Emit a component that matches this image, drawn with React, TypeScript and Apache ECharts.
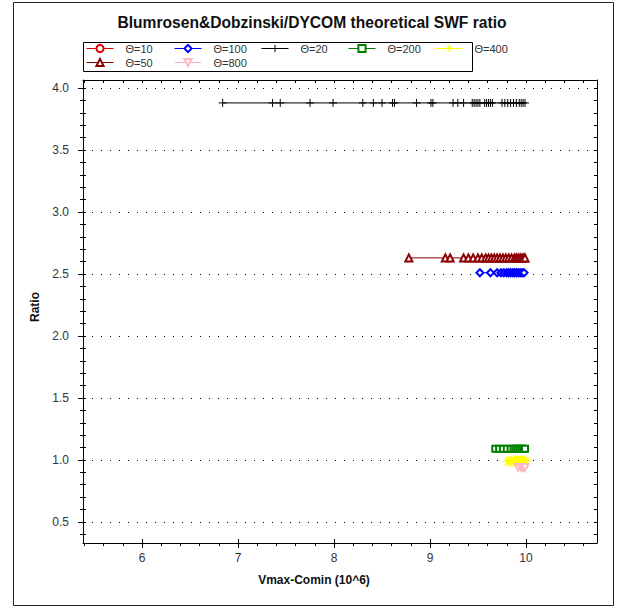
import React, { useEffect, useRef } from "react";
import * as echarts from "echarts";

const FONT = "'Liberation Sans', Arial, sans-serif";

// ---------- data ----------
const seriesNames = ["Θ=10", "Θ=100", "Θ=20", "Θ=200", "Θ=400", "Θ=50", "Θ=800"];

const x10: number[] = [];
const y10 = 4.5;

const x100 = [9.52, 9.63, 9.7, 9.74, 9.77, 9.8, 9.82, 9.84, 9.86, 9.88, 9.9, 9.92, 9.94, 9.96, 9.98];
const y100 = 2.51;

const x20 = [
  6.84, 7.36, 7.44, 7.75, 7.99, 8.3, 8.41, 8.5, 8.61, 8.63, 8.86, 9.01, 9.03, 9.24, 9.29, 9.35,
  9.44, 9.46, 9.48, 9.5, 9.52, 9.57, 9.59, 9.61, 9.63, 9.65, 9.75, 9.78, 9.81, 9.84, 9.87, 9.9,
  9.93, 9.95, 9.97, 9.99,
];
const y20 = 3.88;

const x200 = [9.68, 9.72, 9.76, 9.8, 9.84, 9.87, 9.89, 9.91, 9.93, 9.95, 9.97, 9.99];
const y200 = 1.09;

const x400 = [9.82, 9.85, 9.88, 9.9, 9.92, 9.94, 9.96, 9.98, 9.99];
const y400 = 0.99;

const x50 = [
  8.78, 9.16, 9.21, 9.35, 9.4, 9.45, 9.5, 9.54, 9.58, 9.61, 9.64, 9.67, 9.7, 9.73, 9.76, 9.79,
  9.82, 9.85, 9.88, 9.9, 9.92, 9.94, 9.96, 9.98, 9.99,
];
const y50 = 2.63;

const x800 = [9.92, 9.95, 9.97, 9.99];
const y800 = 0.94;

const xTickLabels = [6, 7, 8, 9, 10];
const xMinorTicks = [
  5.4, 5.6, 5.8, 6, 6.2, 6.4, 6.6, 6.8, 7, 7.2, 7.4, 7.6, 7.8, 8, 8.2, 8.4, 8.6, 8.8, 9, 9.2, 9.4,
  9.6, 9.8, 10, 10.2, 10.4, 10.6,
];
const yTickLabels = [0.5, 1.0, 1.5, 2.0, 2.5, 3.0, 3.5, 4.0];
const yMinorTicks = [
  0.4, 0.5, 0.6, 0.7, 0.8, 0.9, 1.0, 1.1, 1.2, 1.3, 1.4, 1.5, 1.6, 1.7, 1.8, 1.9, 2.0, 2.1, 2.2,
  2.3, 2.4, 2.5, 2.6, 2.7, 2.8, 2.9, 3.0, 3.1, 3.2, 3.3, 3.4, 3.5, 3.6, 3.7, 3.8, 3.9, 4.0,
];

const XMIN = 5.385;
const XMAX = 10.74;
const YMIN = 0.33;
const YMAX = 4.065;

// ---------- styles ----------
const PLUS = "path://M5,0V10M0,5H10";
const STAR = "path://M5,0V10M0,5H10M1.5,1.5L8.5,8.5M8.5,1.5L1.5,8.5";

const seriesStyle: Record<string, any> = {
  "Θ=10": { color: "#e00000", symbol: "emptyCircle", size: 7 },
  "Θ=100": { color: "#0000ff", symbol: "emptyDiamond", size: 7 },
  "Θ=20": { color: "#000000", symbol: PLUS, size: 8, bw: 1 },
  "Θ=200": { color: "#008000", symbol: "emptyRect", size: 6 },
  "Θ=400": { color: "#ffff00", symbol: STAR, size: 11, bw: 1.6 },
  "Θ=50": { color: "#8b0000", symbol: "emptyTriangle", size: 7 },
  "Θ=800": { color: "#ffb6c1", symbol: "emptyTriangle", size: 7, rotate: 180 },
};

const seriesData: Record<string, [number[], number]> = {
  "Θ=10": [x10, y10],
  "Θ=100": [x100, y100],
  "Θ=20": [x20, y20],
  "Θ=200": [x200, y200],
  "Θ=400": [x400, y400],
  "Θ=50": [x50, y50],
  "Θ=800": [x800, y800],
};

const legendPos: Record<string, [number, number]> = {
  "Θ=10": [86, 43],
  "Θ=100": [174, 43],
  "Θ=20": [261, 43],
  "Θ=200": [348, 43],
  "Θ=400": [435, 43],
  "Θ=50": [86, 57],
  "Θ=800": [174, 57],
};

const axisBlack = { color: "#000", width: 1 };

function xAxisDef(extra: any) {
  return {
    type: "value",
    gridIndex: 0,
    min: XMIN,
    max: XMAX,
    splitLine: { show: false },
    axisLabel: { show: false },
    axisLine: { show: false, onZero: false, lineStyle: axisBlack },
    axisTick: { show: false },
    ...extra,
  };
}
function yAxisDef(extra: any) {
  return {
    type: "value",
    gridIndex: 0,
    min: YMIN,
    max: YMAX,
    splitLine: { show: false },
    axisLabel: { show: false },
    axisLine: { show: false, onZero: false, lineStyle: axisBlack },
    axisTick: { show: false },
    ...extra,
  };
}

export default function App() {
  const ref = useRef<HTMLDivElement>(null);
  useEffect(() => {
    if (!ref.current) return;
    const chart = echarts.init(ref.current, undefined, { renderer: "svg" });

    const series = seriesNames.map((name) => {
      const st = seriesStyle[name];
      const [xs, y] = seriesData[name];
      return {
        name,
        type: "line",
        xAxisIndex: 0,
        yAxisIndex: 0,
        data: xs.map((x) => [x, y]),
        symbol: st.symbol,
        symbolSize: st.size,
        symbolRotate: st.rotate || 0,
        showSymbol: true,
        showAllSymbol: true,
        lineStyle: { color: st.color, width: 1 },
        itemStyle: { color: st.color, borderColor: st.color, borderWidth: st.bw || 1 },
        emphasis: { disabled: true },
        animation: false,
      };
    });

    const legends = seriesNames.map((name) => ({
      data: [name],
      left: legendPos[name][0],
      top: legendPos[name][1],
      padding: 0,
      itemWidth: 27,
      itemHeight: 9,
      selectedMode: false,
      formatter: (n: string) => "{s|\u00a0}{t|" + n + "}",
      lineStyle: { width: 1 },
      itemStyle: { borderWidth: 1 },
      textStyle: {
        fontSize: 11,
        color: "#333",
        fontFamily: FONT,
        rich: {
          s: { width: 7, fontSize: 11 },
          t: { fontSize: 11, color: "#333", fontFamily: FONT },
        },
      },
    }));

    chart.setOption({
      animation: false,
      backgroundColor: "#fff",
      title: {
        text: "Blumrosen&Dobzinski/DYCOM theoretical SWF ratio",
        left: "center",
        top: 14,
        padding: 0,
        textStyle: { fontSize: 15.6, fontWeight: "bold", color: "#111", fontFamily: FONT },
      },
      legend: legends,
      grid: { left: 83, right: 27, top: 80, bottom: 65, show: false },
      xAxis: [
        xAxisDef({
          position: "bottom",
          axisLine: { show: true, onZero: false, lineStyle: axisBlack },
          axisTick: { show: true, customValues: xTickLabels, length: 5, lineStyle: axisBlack },
          axisLabel: {
            show: true,
            customValues: xTickLabels,
            margin: 9,
            fontSize: 12,
            color: "#333",
            fontFamily: FONT,
          },
        }),
        xAxisDef({
          position: "bottom",
          axisTick: { show: true, customValues: xTickLabels, length: 4, inside: true, lineStyle: axisBlack },
        }),
        xAxisDef({
          position: "bottom",
          axisTick: { show: true, customValues: xMinorTicks, length: 3, lineStyle: axisBlack },
        }),
        xAxisDef({
          position: "top",
          axisLine: { show: true, onZero: false, lineStyle: axisBlack },
          axisTick: { show: true, customValues: xMinorTicks, length: 3, inside: true, lineStyle: axisBlack },
        }),
      ],
      yAxis: [
        yAxisDef({
          position: "left",
          axisLine: { show: true, onZero: false, lineStyle: axisBlack },
          axisTick: { show: true, customValues: yTickLabels, length: 5, lineStyle: axisBlack },
          axisLabel: {
            show: true,
            customValues: yTickLabels,
            margin: 14,
            fontSize: 12,
            color: "#333",
            fontFamily: FONT,
            formatter: (v: number) => v.toFixed(1),
          },
          splitLine: { show: true, lineStyle: { color: "#000", width: 1, type: [1, 8] } },
        }),
        yAxisDef({
          position: "left",
          axisTick: { show: true, customValues: yMinorTicks, length: 3, lineStyle: axisBlack },
        }),
        yAxisDef({
          position: "left",
          axisTick: { show: true, customValues: yMinorTicks, length: 3, inside: true, lineStyle: axisBlack },
        }),
        yAxisDef({
          position: "right",
          axisLine: { show: true, onZero: false, lineStyle: axisBlack },
          axisTick: { show: true, customValues: yMinorTicks, length: 3, inside: true, lineStyle: axisBlack },
        }),
      ],
      graphic: [
        {
          type: "rect",
          shape: { x: 13.5, y: 2.5, width: 600, height: 603 },
          style: { fill: "none", stroke: "#222", lineWidth: 1 },
          silent: true,
        },
        {
          type: "rect",
          shape: { x: 83.5, y: 42.5, width: 389, height: 29 },
          style: { fill: "none", stroke: "#000", lineWidth: 1 },
          silent: true,
        },
        {
          type: "text",
          x: 314,
          y: 580,
          style: {
            text: "Vmax-Comin (10^6)",
            font: `bold 12px ${FONT}`,
            fill: "#111",
            textAlign: "center",
            textVerticalAlign: "middle",
            align: "center",
            verticalAlign: "middle",
          },
          silent: true,
        },
        {
          type: "text",
          x: 35,
          y: 307,
          rotation: Math.PI / 2,
          style: {
            text: "Ratio",
            font: `bold 12px ${FONT}`,
            fill: "#111",
            textAlign: "center",
            textVerticalAlign: "middle",
            align: "center",
            verticalAlign: "middle",
          },
          silent: true,
        },
      ],
      series,
    });

    return () => chart.dispose();
  }, []);

  return (
    <div
      ref={ref}
      style={{ position: "fixed", left: 0, top: 0, width: 624, height: 608, background: "#fff" }}
    />
  );
}
